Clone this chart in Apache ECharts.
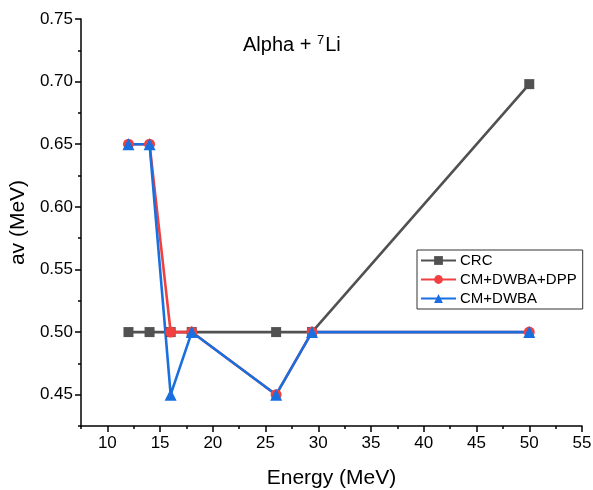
<!DOCTYPE html>
<html>
<head>
<meta charset="utf-8">
<script src="https://cdn.jsdelivr.net/npm/echarts@6/dist/echarts.min.js"></script>
<style>
  html, body { margin: 0; padding: 0; background: #fff; }
  #chart { width: 593px; height: 490px; }
</style>
</head>
<body>
<div id="chart"></div>
<script>
// energies (MeV) and av values
const energy = [12, 14, 16, 18, 26, 29.4, 50];
const crc = [0.5, 0.5, 0.5, 0.5, 0.5, 0.5, 0.698];
const cmDwbaDpp = [0.65, 0.65, 0.5, 0.5, 0.45, 0.5, 0.5];
const cmDwba = [0.65, 0.65, 0.45, 0.5, 0.45, 0.5, 0.5];
const xTicks = [10, 15, 20, 25, 30, 35, 40, 45, 50, 55];
const yTicks = [0.45, 0.50, 0.55, 0.60, 0.65, 0.70, 0.75];

const font = 'Liberation Sans, Arial, sans-serif';

function pairs(ys) {
  return energy.map((x, i) => [x, ys[i]]);
}

const chart = echarts.init(document.getElementById('chart'), null, { renderer: 'canvas' });

const axisLine = { show: true, lineStyle: { color: '#000', width: 1.5 } };

chart.setOption({
  animation: false,
  title: {
    text: 'Alpha + {sup|7}Li',
    left: 238,
    top: 29,
    textStyle: {
      fontFamily: font, fontSize: 20, fontWeight: 'normal', color: '#000',
      rich: { sup: { fontFamily: font, fontSize: 13, color: '#000', verticalAlign: 'bottom', padding: [0, 1, 10, 0] } }
    }
  },
  legend: {
    orient: 'vertical',
    left: 417,
    top: 250,
    padding: [3, 6, 3, 3],
    itemGap: 4,
    itemWidth: 35,
    itemHeight: 11,
    borderColor: '#333',
    borderWidth: 1,
    borderRadius: 0,
    textStyle: { fontFamily: font, fontSize: 15, color: '#000', padding: [0, 0, 0, -1] },
    data: ['CRC', 'CM+DWBA+DPP', 'CM+DWBA']
  },
  grid: { left: 81, right: 11, top: 19, bottom: 64, containLabel: false, outerBoundsMode: 'none' },
  xAxis: [{
    type: 'value', min: 7.5, max: 55,
    name: 'Energy (MeV)', nameLocation: 'middle', nameGap: 42,
    nameTextStyle: { fontFamily: font, fontSize: 21, color: '#000' },
    axisLine: axisLine,
    axisTick: { show: true, inside: false, length: 6, customValues: xTicks, lineStyle: { color: '#000', width: 1.5 } },
    axisLabel: { customValues: xTicks, fontFamily: font, fontSize: 17, color: '#000', margin: 9 },
    splitLine: { show: false }
  }, {
    type: 'value', min: 7.5, max: 55, interval: 2.5, position: 'bottom',
    axisLine: { show: false },
    axisTick: { show: true, length: 3, lineStyle: { color: '#000', width: 1.5 } },
    axisLabel: { show: false },
    splitLine: { show: false }
  }],
  yAxis: [{
    type: 'value', min: 0.425, max: 0.75,
    name: 'av (MeV)', nameLocation: 'middle', nameGap: 51,
    nameTextStyle: { fontFamily: font, fontSize: 21, color: '#000' },
    axisLine: axisLine,
    axisTick: { show: true, inside: false, length: 6, customValues: yTicks, lineStyle: { color: '#000', width: 1.5 } },
    axisLabel: { customValues: yTicks, fontFamily: font, fontSize: 17, color: '#000', margin: 8, formatter: v => v.toFixed(2) },
    splitLine: { show: false }
  }, {
    type: 'value', min: 0.425, max: 0.75, interval: 0.025, position: 'left',
    axisLine: { show: false },
    axisTick: { show: true, length: 3, lineStyle: { color: '#000', width: 1.5 } },
    axisLabel: { show: false },
    splitLine: { show: false }
  }],
  series: [{
    name: 'CRC', type: 'line', data: pairs(crc),
    symbol: 'rect', symbolSize: 10,
    itemStyle: { color: '#515151' },
    lineStyle: { color: '#515151', width: 2.6 }
  }, {
    name: 'CM+DWBA+DPP', type: 'line', data: pairs(cmDwbaDpp),
    symbol: 'circle', symbolSize: 11,
    itemStyle: { color: '#F14040' },
    lineStyle: { color: '#F14040', width: 2.6 }
  }, {
    name: 'CM+DWBA', type: 'line', data: pairs(cmDwba),
    symbol: 'triangle', symbolSize: 12,
    itemStyle: { color: '#1A6FDF' },
    lineStyle: { color: '#1A6FDF', width: 2.6 }
  }]
});
</script>
</body>
</html>
